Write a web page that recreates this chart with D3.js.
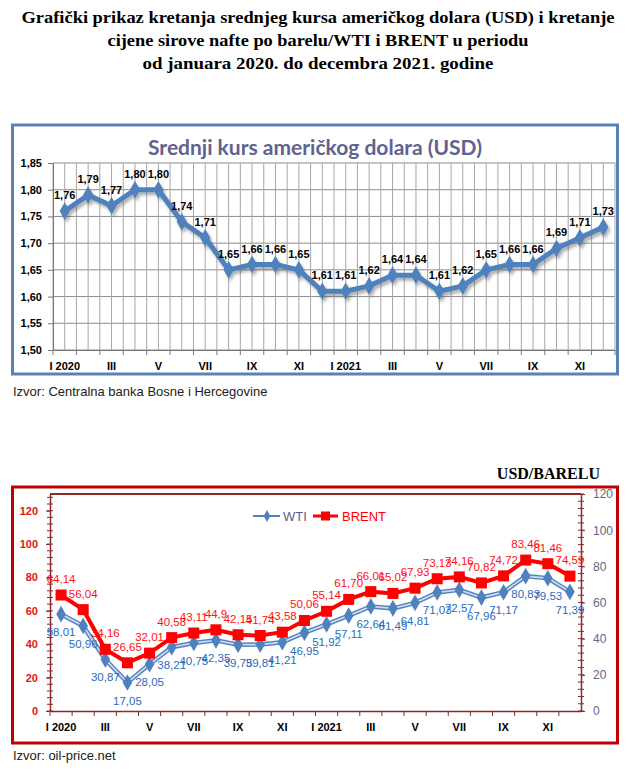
<!DOCTYPE html>
<html>
<head>
<meta charset="utf-8">
<script src="https://cdn.jsdelivr.net/npm/d3@7"></script>
<style>
  body { margin: 0; background: #fff; }
  svg { display: block; }
</style>
</head>
<body>
<div id="chart"></div>
<script>
var titleLines = [
  "Grafički prikaz kretanja srednjeg kursa američkog dolara (USD) i kretanje",
  "cijene sirove nafte po barelu/WTI i BRENT u periodu",
  "od januara 2020. do decembra 2021. godine"
];
var months = ["I 2020", "II 2020", "III 2020", "IV 2020", "V 2020", "VI 2020",
  "VII 2020", "VIII 2020", "IX 2020", "X 2020", "XI 2020", "XII 2020",
  "I 2021", "II 2021", "III 2021", "IV 2021", "V 2021", "VI 2021",
  "VII 2021", "VIII 2021", "IX 2021", "X 2021", "XI 2021", "XII 2021"];
var xTickLabels = ["I 2020", "", "III", "", "V", "", "VII", "", "IX", "", "XI", "",
  "I 2021", "", "III", "", "V", "", "VII", "", "IX", "", "XI", ""];

var usdRate = [1.76, 1.79, 1.77, 1.80, 1.80, 1.74, 1.71, 1.65, 1.66, 1.66, 1.65, 1.61,
  1.61, 1.62, 1.64, 1.64, 1.61, 1.62, 1.65, 1.66, 1.66, 1.69, 1.71, 1.73];
var usdTicks = [1.50, 1.55, 1.60, 1.65, 1.70, 1.75, 1.80, 1.85];

var wti = [58.01, 50.96, 30.87, 17.05, 28.05, 38.21, 40.75, 42.35, 39.75, 39.81, 41.21, 46.95,
  51.92, 57.11, 62.64, 61.49, 64.81, 71.03, 72.57, 67.96, 71.17, 80.83, 79.53, 71.39];
var brent = [64.14, 56.04, 34.16, 26.65, 32.01, 40.58, 43.11, 44.9, 42.15, 41.74, 43.58, 50.06,
  55.14, 61.70, 66.01, 65.02, 67.93, 73.13, 74.16, 70.82, 74.72, 83.46, 81.46, 74.59];
// brent labels as printed (one value is shown with a single decimal)
var brentLabels = ["64,14", "56,04", "34,16", "26,65", "32,01", "40,58", "43,11", "44,9",
  "42,15", "41,74", "43,58", "50,06", "55,14", "61,70", "66,01", "65,02", "67,93", "73,13",
  "74,16", "70,82", "74,72", "83,46", "81,46", "74,59"];
var oilTicks = [0, 20, 40, 60, 80, 100, 120];

var width = 636;
var height = 773;
var svg = d3.select("#chart").append("svg")
  .attr("width", width).attr("height", height);

var defs = svg.append("defs");
defs.append("filter").attr("id", "shadow")
  .attr("x", "-10%").attr("y", "-10%").attr("width", "130%").attr("height", "140%")
  .append("feDropShadow")
  .attr("dx", 2).attr("dy", 3).attr("stdDeviation", 1.5)
  .attr("flood-color", "#555").attr("flood-opacity", 0.45);

function fmt(v, dec) {
  return v.toFixed(dec).replace(".", ",");
}

function drawTitle() {
  var widths = [593, 421, 351];
  titleLines.forEach(function(t, i) {
    svg.append("text")
      .attr("x", 318).attr("y", 23 + i * 23)
      .attr("text-anchor", "middle")
      .attr("textLength", widths[i])
      .attr("lengthAdjust", "spacingAndGlyphs")
      .style("font-family", "Liberation Serif, serif")
      .style("font-weight", "bold")
      .style("font-size", "17px")
      .text(t);
  });
}

function drawUsdChart() {
  var g = svg.append("g");
  g.append("rect")
    .attr("x", 12.5).attr("y", 125).attr("width", 605).attr("height", 249)
    .attr("fill", "#fff").attr("stroke", "#5b82b8").attr("stroke-width", 3);

  g.append("text")
    .attr("x", 315).attr("y", 155)
    .attr("text-anchor", "middle")
    .style("font-family", "Lato, sans-serif")
    .style("font-weight", "bold")
    .style("font-size", "21px")
    .style("fill", "#60628f")
    .text("Srednji kurs američkog dolara (USD)");

  var x = d3.scaleBand().domain(months).range([53, 615]);
  var y = d3.scaleLinear().domain([1.50, 1.85]).range([350, 163]);
  var half = x.bandwidth() / 2;

  // grid
  usdTicks.forEach(function(t) {
    g.append("line")
      .attr("x1", 53).attr("x2", 615).attr("y1", y(t)).attr("y2", y(t))
      .attr("stroke", "#8c8c8c").attr("stroke-width", 1);
  });
  var gx = [];
  months.forEach(function(m) { gx.push(x(m)); gx.push(x(m) + half); });
  gx.push(615);
  gx.forEach(function(v) {
    g.append("line")
      .attr("x1", v).attr("x2", v).attr("y1", 163).attr("y2", 350)
      .attr("stroke", "#a6a6a6").attr("stroke-width", 1);
  });

  var yAxis = g.append("g").attr("transform", "translate(53,0)")
    .call(d3.axisLeft(y).tickValues(usdTicks).tickFormat(function(d) { return fmt(d, 2); })
      .tickSizeInner(5).tickSizeOuter(0).tickPadding(6));
  yAxis.select(".domain").attr("stroke", "#777");
  yAxis.selectAll(".tick line").attr("stroke", "#777");
  yAxis.selectAll("text").style("font-family", "Liberation Sans, Arial, sans-serif")
    .style("font-weight", "bold").style("font-size", "11px").style("fill", "#000");

  var xAxis = g.append("g").attr("transform", "translate(0,350)")
    .call(d3.axisBottom(x).tickFormat(function(d, i) { return xTickLabels[i]; })
      .tickSize(0).tickPadding(12));
  xAxis.select(".domain").attr("stroke", "#777");
  xAxis.selectAll("text").style("font-family", "Liberation Sans, Arial, sans-serif")
    .style("font-weight", "bold").style("font-size", "11px").style("fill", "#000");
  gx.filter(function(v, i) { return i % 2 === 0; }).forEach(function(v) {
    g.append("line").attr("x1", v).attr("x2", v).attr("y1", 350).attr("y2", 355)
      .attr("stroke", "#777");
  });

  var pts = months.map(function(m, i) { return [x(m) + half, y(usdRate[i])]; });
  var sg = g.append("g").attr("filter", "url(#shadow)");
  sg.append("path")
    .attr("d", d3.line()(pts))
    .attr("fill", "none").attr("stroke", "#4f81bd").attr("stroke-width", 5)
    .attr("stroke-linejoin", "round");
  sg.selectAll(".mk").data(pts).enter().append("path")
    .attr("transform", function(d) { return "translate(" + d[0] + "," + d[1] + ")"; })
    .attr("d", d3.symbol().type(d3.symbolDiamond).size(90))
    .attr("fill", "#4f81bd");

  g.selectAll(".lbl").data(pts).enter().append("text")
    .attr("x", function(d) { return d[0]; })
    .attr("y", function(d) { return d[1] - 12; })
    .attr("text-anchor", "middle")
    .style("font-family", "Liberation Sans, Arial, sans-serif")
    .style("font-weight", "bold").style("font-size", "11px")
    .text(function(d, i) { return fmt(usdRate[i], 2); });

  svg.append("text")
    .attr("x", 13).attr("y", 396)
    .style("font-family", "Liberation Sans, Arial, sans-serif")
    .style("font-size", "13px").style("fill", "#222")
    .text("Izvor: Centralna banka Bosne i Hercegovine");
}

function drawOilChart() {
  var g = svg.append("g");
  svg.append("text")
    .attr("x", 600).attr("y", 479)
    .attr("text-anchor", "end")
    .style("font-family", "Liberation Serif, serif")
    .style("font-weight", "bold").style("font-size", "16px")
    .text("USD/BARELU");

  g.append("rect")
    .attr("x", 12.5).attr("y", 487).attr("width", 605).attr("height", 256)
    .attr("fill", "#fff").attr("stroke", "#c00000").attr("stroke-width", 3);

  var x = d3.scaleBand().domain(months).range([50, 581]);
  var yL = d3.scaleLinear().domain([0, 130]).range([711, 494]);
  var yR = d3.scaleLinear().domain([0, 120]).range([711, 494]);
  var half = x.bandwidth() / 2;
  var axisColor = "#8b2a2a";

  g.append("line").attr("x1", 50).attr("x2", 581).attr("y1", 494).attr("y2", 494)
    .attr("stroke", axisColor).attr("stroke-width", 2);

  // minor ticks
  d3.range(0, 131, 4).forEach(function(v) {
    g.append("line").attr("x1", 47).attr("x2", 53).attr("y1", yL(v)).attr("y2", yL(v))
      .attr("stroke", axisColor).attr("stroke-width", 1);
  });
  d3.range(0, 121, 4).forEach(function(v) {
    g.append("line").attr("x1", 578).attr("x2", 584).attr("y1", yR(v)).attr("y2", yR(v))
      .attr("stroke", axisColor).attr("stroke-width", 1);
  });

  var left = g.append("g").attr("transform", "translate(50,0)")
    .call(d3.axisLeft(yL).tickValues(oilTicks).tickSizeInner(4).tickSizeOuter(0).tickPadding(8));
  left.select(".domain").attr("stroke", axisColor).attr("stroke-width", 1.5);
  left.selectAll(".tick line").attr("stroke", axisColor);
  left.selectAll("text").style("font-family", "Liberation Sans, Arial, sans-serif")
    .style("font-weight", "bold").style("font-size", "11px").style("fill", "#e31414");

  var right = g.append("g").attr("transform", "translate(581,0)")
    .call(d3.axisRight(yR).tickValues(oilTicks).tickSizeInner(4).tickSizeOuter(0).tickPadding(8));
  right.select(".domain").attr("stroke", axisColor).attr("stroke-width", 1.5);
  right.selectAll(".tick line").attr("stroke", axisColor);
  right.selectAll("text").style("font-family", "Liberation Sans, Arial, sans-serif")
    .style("font-size", "12px").style("fill", "#64648c");

  var bottom = g.append("g").attr("transform", "translate(0,711)")
    .call(d3.axisBottom(x).tickFormat(function(d, i) { return xTickLabels[i]; })
      .tickSize(0).tickPadding(12));
  bottom.select(".domain").attr("stroke", axisColor).attr("stroke-width", 1.5);
  bottom.selectAll("text").style("font-family", "Liberation Sans, Arial, sans-serif")
    .style("font-weight", "bold").style("font-size", "11px").style("fill", "#000");
  months.forEach(function(m) {
    g.append("line").attr("x1", x(m)).attr("x2", x(m)).attr("y1", 711).attr("y2", 716)
      .attr("stroke", axisColor);
  });

  var wtiPts = months.map(function(m, i) { return [x(m) + half, yL(wti[i])]; });
  var brentPts = months.map(function(m, i) { return [x(m) + half, yR(brent[i])]; });

  g.append("path").attr("d", d3.line()(wtiPts))
    .attr("fill", "none").attr("stroke", "#4f81bd").attr("stroke-width", 4.5);
  g.append("path").attr("d", d3.line()(wtiPts))
    .attr("fill", "none").attr("stroke", "#c9d8ee").attr("stroke-width", 1.8);
  g.selectAll(".wmk").data(wtiPts).enter().append("path")
    .attr("transform", function(d) { return "translate(" + d[0] + "," + d[1] + ")"; })
    .attr("d", d3.symbol().type(d3.symbolDiamond).size(80))
    .attr("fill", "#4f81bd");

  g.append("path").attr("d", d3.line()(brentPts))
    .attr("fill", "none").attr("stroke", "#ff0000").attr("stroke-width", 4);
  g.selectAll(".bmk").data(brentPts).enter().append("rect")
    .attr("x", function(d) { return d[0] - 5.5; })
    .attr("y", function(d) { return d[1] - 5.5; })
    .attr("width", 11).attr("height", 11)
    .attr("fill", "#ff0000");

  g.selectAll(".wl").data(wtiPts).enter().append("text")
    .attr("x", function(d) { return d[0]; })
    .attr("y", function(d) { return d[1] + 22; })
    .attr("text-anchor", "middle")
    .style("font-family", "Liberation Sans, Arial, sans-serif")
    .style("font-size", "11.5px").style("fill", "#2a6cbc")
    .text(function(d, i) { return fmt(wti[i], 2); });

  g.selectAll(".bl").data(brentPts).enter().append("text")
    .attr("x", function(d) { return d[0]; })
    .attr("y", function(d) { return d[1] - 12; })
    .attr("text-anchor", "middle")
    .style("font-family", "Liberation Sans, Arial, sans-serif")
    .style("font-size", "11.5px").style("fill", "#ff1010")
    .text(function(d, i) { return brentLabels[i]; });

  // legend
  var lg = g.append("g").attr("transform", "translate(253,516)");
  lg.append("line").attr("x1", 0).attr("x2", 27).attr("stroke", "#4f81bd").attr("stroke-width", 2);
  lg.append("path").attr("transform", "translate(14,0)")
    .attr("d", d3.symbol().type(d3.symbolDiamond).size(40)).attr("fill", "#4f81bd");
  lg.append("text").attr("x", 30).attr("y", 5)
    .style("font-family", "Liberation Sans, Arial, sans-serif").style("font-size", "13px")
    .style("fill", "#5a5c8c").text("WTI");
  lg.append("line").attr("x1", 60).attr("x2", 85).attr("stroke", "#ff0000").attr("stroke-width", 3);
  lg.append("rect").attr("x", 68).attr("y", -4.5).attr("width", 9).attr("height", 9).attr("fill", "#ff0000");
  lg.append("text").attr("x", 89).attr("y", 5)
    .style("font-family", "Liberation Sans, Arial, sans-serif").style("font-size", "13px")
    .style("fill", "#ff0000").text("BRENT");

  svg.append("text")
    .attr("x", 13).attr("y", 760)
    .style("font-family", "Liberation Sans, Arial, sans-serif")
    .style("font-size", "13px").style("fill", "#222")
    .text("Izvor: oil-price.net");
}

drawTitle();
drawUsdChart();
drawOilChart();
</script>
</body>
</html>
